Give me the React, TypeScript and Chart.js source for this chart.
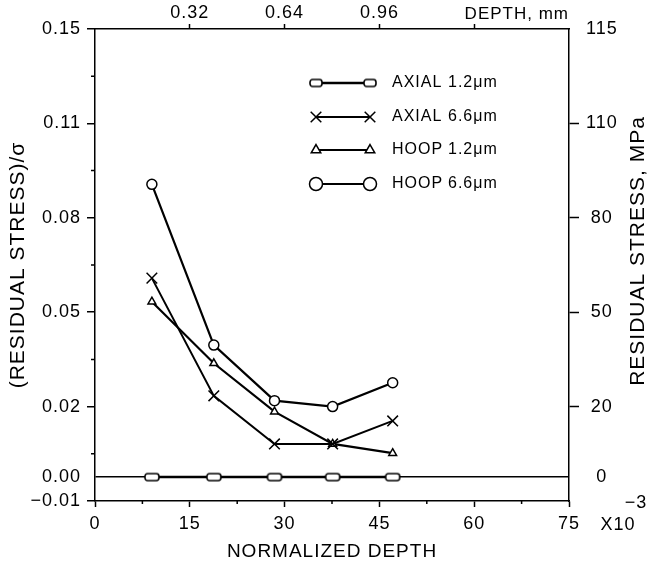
import React, { useEffect, useRef } from "react";
import { Chart, registerables } from "chart.js";
import { drawPoint } from "chart.js/helpers";

Chart.register(...registerables);

const FONT = "'Liberation Sans', Arial, Helvetica, sans-serif";

// ---- data (normalized depth vs residual stress / sigma) ----
const normalizedDepth = [9, 18.8, 28.4, 37.6, 47.1];
const axial12 = [0, 0, 0, 0, 0];
const axial66 = [0.0666, 0.0272, 0.0111, 0.0111, 0.0188];
const hoop12 = [0.0587, 0.0381, 0.0219, 0.0111, 0.008];
const hoop66 = [0.098, 0.0442, 0.0256, 0.0236, 0.0316];
const seriesKinds = ["AXIAL", "AXIAL", "HOOP", "HOOP"];
const seriesSizes = ["1.2μm", "6.6μm", "1.2μm", "6.6μm"];

// ---- axes ----
const xMin = 0;
const xMax = 75;
const xTicks = [0, 15, 30, 45, 60, 75];
const xTickLabels = ["0", "15", "30", "45", "60", "75"];
const xMinorTicks = [7.5, 22.5, 37.5, 52.5, 67.5];
const topTicks = [15, 30, 45, 60];
const topTickLabels = ["0.32", "0.64", "0.96", ""];
const yMin = -0.008;
const yMax = 0.15;
const yTicks = [-0.008, 0, 0.0236, 0.0552, 0.0868, 0.1184, 0.15];
const yLeftLabels = ["−0.01", "0.00", "0.02", "0.05", "0.08", "0.11", "0.15"];
const yRightLabels = ["", "0", "20", "50", "80", "110", "115"];
const yMinorTicks = [0.0078, 0.0394, 0.071, 0.1026, 0.1342];

function roundedRectMarker(w: number, h: number, lw: number) {
  const c = document.createElement("canvas");
  c.width = w + 4;
  c.height = h + 4;
  const g = c.getContext("2d")!;
  g.lineWidth = lw;
  g.strokeStyle = "#000";
  g.fillStyle = "#fff";
  g.beginPath();
  (g as any).roundRect(2, 2, w, h, h / 2.6);
  g.fill();
  g.stroke();
  return c;
}

const overlayPlugin = {
  id: "overlay",
  beforeUpdate(chart: any) {
    chart.ctx.letterSpacing = "1px";
  },
  beforeDraw(chart: any) {
    chart.ctx.letterSpacing = "1px";
  },
  afterDraw(chart: any) {
    const ctx = chart.ctx as CanvasRenderingContext2D;
    const xs = chart.scales.x;
    const ys = chart.scales.y;
    const ca = chart.chartArea;
    ctx.save();
    ctx.strokeStyle = "#000";
    ctx.lineWidth = 1.5;
    ctx.beginPath();
    for (const v of yMinorTicks) {
      const py = ys.getPixelForValue(v);
      ctx.moveTo(ca.left - 4, py);
      ctx.lineTo(ca.left, py);
    }
    for (const v of xMinorTicks) {
      const px = xs.getPixelForValue(v);
      ctx.moveTo(px, ca.bottom);
      ctx.lineTo(px, ca.bottom + 3);
    }
    ctx.stroke();

    // legend
    const rows = [83, 117, 150, 184];
    const x1 = 316;
    const x2 = 370;
    chart.data.datasets.forEach((ds: any, i: number) => {
      const y = rows[i];
      ctx.strokeStyle = "#000";
      ctx.lineWidth = ds.borderWidth;
      ctx.beginPath();
      ctx.moveTo(x1, y);
      ctx.lineTo(x2, y);
      ctx.stroke();
      ctx.fillStyle = "#fff";
      ctx.lineWidth = ds.pointBorderWidth;
      const opts = {
        pointStyle: ds.legendStyle,
        radius: ds.legendRadius,
        rotation: 0,
        borderWidth: ds.pointBorderWidth,
      };
      drawPoint(ctx, opts as any, x1, y);
      drawPoint(ctx, opts as any, x2, y);
      ctx.fillStyle = "#000";
      ctx.font = `16px ${FONT}`;
      (ctx as any).letterSpacing = "1px";
      ctx.textAlign = "left";
      ctx.textBaseline = "middle";
      ctx.fillText(seriesKinds[i], 392, y);
      ctx.fillText(seriesSizes[i], 448, y);
    });

    // right title
    ctx.fillStyle = "#000";
    ctx.font = `21px ${FONT}`;
    (ctx as any).letterSpacing = "1px";
    ctx.textAlign = "center";
    ctx.textBaseline = "middle";
    ctx.save();
    ctx.translate(638, 251);
    ctx.rotate(-Math.PI / 2);
    ctx.fillText("RESIDUAL STRESS, MPa", 0, 0);
    ctx.restore();

    ctx.font = `18px ${FONT}`;
    ctx.fillText("X10", 618, 525);
    ctx.fillText("−3", 636, 503);
    ctx.restore();
  },
};

export default function App() {
  const ref = useRef<HTMLCanvasElement | null>(null);

  useEffect(() => {
    if (!ref.current) return;
    const squareData = roundedRectMarker(14, 7, 1.6);
    const squareLegend = roundedRectMarker(12, 7, 1.6);
    const pts = (vals: number[]) => normalizedDepth.map((x, i) => ({ x, y: vals[i] }));
    const common = {
      borderColor: "#000",
      pointBorderColor: "#000",
      pointBackgroundColor: "#fff",
      pointBorderWidth: 1.5,
      tension: 0,
      fill: false,
    };
    const tickFont = { family: FONT, size: 18 };

    const chart = new Chart(ref.current, {
      type: "line",
      data: {
        datasets: [
          {
            ...common,
            label: "AXIAL 1.2μm",
            data: pts(axial12),
            borderWidth: 2.5,
            pointStyle: squareData as any,
            pointRadius: 7,
            legendStyle: squareLegend,
            legendRadius: 6,
          } as any,
          {
            ...common,
            label: "AXIAL 6.6μm",
            data: pts(axial66),
            borderWidth: 2,
            pointStyle: "crossRot",
            pointRadius: 7.5,
            legendStyle: "crossRot",
            legendRadius: 7.5,
          } as any,
          {
            ...common,
            label: "HOOP 1.2μm",
            data: pts(hoop12),
            borderWidth: 2.2,
            pointStyle: "triangle",
            pointRadius: 4.5,
            legendStyle: "triangle",
            legendRadius: 5.5,
          } as any,
          {
            ...common,
            label: "HOOP 6.6μm",
            data: pts(hoop66),
            borderWidth: 2.2,
            pointStyle: "circle",
            pointRadius: 5,
            legendStyle: "circle",
            legendRadius: 6.5,
          } as any,
        ],
      },
      options: {
        animation: false,
        responsive: false,
        devicePixelRatio: 1,
        layout: { padding: 0 },
        plugins: {
          legend: { display: false },
          tooltip: { enabled: false },
        },
        scales: {
          x: {
            type: "linear",
            position: "bottom",
            min: xMin,
            max: xMax,
            afterBuildTicks: (s: any) => {
              s.ticks = xTicks.map((v) => ({ value: v }));
            },
            afterFit: (s: any) => {
              s.height = 65;
            },
            ticks: {
              callback: (_v: any, i: number) => xTickLabels[i],
              font: tickFont,
              color: "#000",
              padding: 6,
              maxRotation: 0,
              autoSkip: false,
            },
            grid: {
              drawOnChartArea: false,
              tickLength: 6,
              tickColor: "#000",
              tickWidth: 1.5,
            },
            border: { color: "#000", width: 1.5 },
            title: {
              display: true,
              text: "NORMALIZED DEPTH",
              color: "#000",
              font: { family: FONT, size: 19 },
              padding: { top: 0, bottom: 3 },
            },
          },
          xTop: {
            type: "linear",
            position: "top",
            min: xMin,
            max: xMax,
            afterBuildTicks: (s: any) => {
              s.ticks = topTicks.map((v) => ({ value: v }));
            },
            afterFit: (s: any) => {
              s.height = 29;
            },
            ticks: {
              callback: (_v: any, i: number) => topTickLabels[i],
              font: tickFont,
              color: "#000",
              padding: 0,
              maxRotation: 0,
              autoSkip: false,
            },
            grid: {
              drawOnChartArea: false,
              tickLength: 5,
              tickColor: "#000",
              tickWidth: 1.5,
            },
            border: { color: "#000", width: 1.5 },
            title: {
              display: true,
              text: "DEPTH, mm",
              align: "end",
              color: "#000",
              font: { family: FONT, size: 17 },
              padding: { top: 4, bottom: 0 },
            },
          },
          y: {
            type: "linear",
            position: "left",
            min: yMin,
            max: yMax,
            afterBuildTicks: (s: any) => {
              s.ticks = yTicks.map((v) => ({ value: v }));
            },
            afterFit: (s: any) => {
              s.width = 95;
            },
            ticks: {
              callback: (_v: any, i: number) => yLeftLabels[i],
              font: tickFont,
              color: "#000",
              padding: 6,
              autoSkip: false,
            },
            grid: {
              drawOnChartArea: true,
              color: (c: any) => (c.tick && c.tick.value === 0 ? "#000" : "rgba(0,0,0,0)"),
              lineWidth: 1.5,
              tickLength: 8,
              tickColor: (c: any) => (c.tick && c.tick.value === 0 ? "rgba(0,0,0,0)" : "#000"),
              tickWidth: 1.5,
            },
            border: { color: "#000", width: 1.5 },
            title: {
              display: true,
              text: "(RESIDUAL STRESS)/σ",
              color: "#000",
              font: { family: FONT, size: 21 },
              padding: { top: 6, bottom: 0 },
            },
          },
          y2: {
            type: "linear",
            position: "right",
            min: yMin,
            max: yMax,
            afterBuildTicks: (s: any) => {
              s.ticks = yTicks.map((v) => ({ value: v }));
            },
            afterFit: (s: any) => {
              s.width = 86;
            },
            ticks: {
              callback: (_v: any, i: number) => yRightLabels[i],
              font: tickFont,
              color: "#000",
              padding: 7,
              crossAlign: "center",
              autoSkip: false,
            },
            grid: {
              drawOnChartArea: false,
              tickLength: 10,
              tickColor: (c: any) =>
                c.tick && (c.tick.value === 0 || c.tick.value === yMin || c.tick.value === yMax)
                  ? "rgba(0,0,0,0)"
                  : "#000",
              tickWidth: 1.5,
            },
            border: { color: "#000", width: 1.5 },
          },
        },
      } as any,
      plugins: [overlayPlugin],
    });
    return () => chart.destroy();
  }, []);

  return (
    <div style={{ position: "absolute", left: 0, top: 0, width: 655, height: 566, background: "#fff" }}>
      <canvas ref={ref} width={655} height={566} style={{ display: "block" }} />
    </div>
  );
}
